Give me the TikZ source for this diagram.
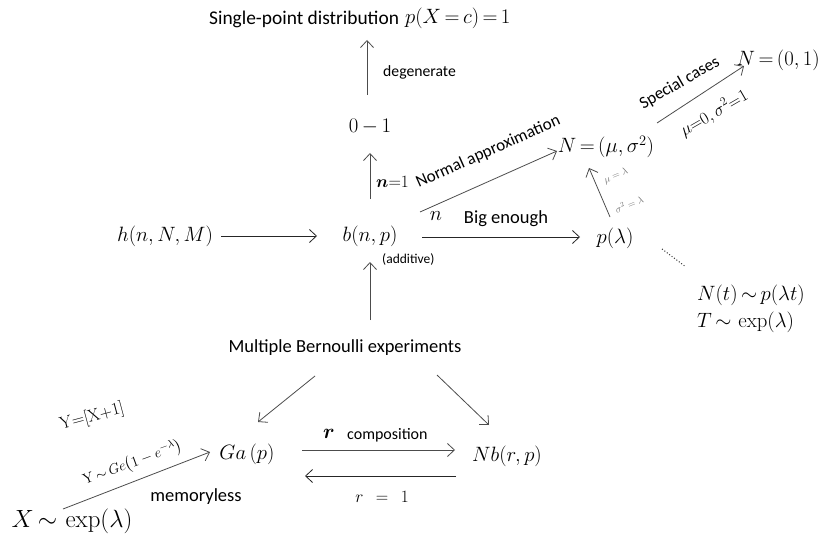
\documentclass[tikz,border=0pt]{standalone}
\usepackage{amsmath}
\usepackage[no-math]{fontspec}
\setmainfont{Carlito}
\usetikzlibrary{arrows.meta}
\tikzset{
  arr/.style={draw=black!70, line width=0.8pt, -{Straight Barb[length=7pt,width=13pt,line width=0.8pt]}},
  txt/.style={inner sep=0pt, font=\fontsize{18.5}{20}\selectfont},
  stxt/.style={inner sep=0pt, font=\fontsize{16}{18}\selectfont},
  mth/.style={inner sep=0pt, font=\fontsize{20}{22}\selectfont},
  smth/.style={inner sep=0pt, font=\fontsize{17}{19}\selectfont},
  gmth/.style={inner sep=0pt, text=black!55, font=\fontsize{10}{12}\selectfont},
}
\begin{document}
\begin{tikzpicture}[x=1pt,y=-1pt]
\useasboundingbox (0,0) rectangle (821,540);
% nodes
\node[inner sep=0pt, font=\fontsize{19.4}{22}\selectfont, anchor=west] (single) at (209,19) {Single-point distribution};
\node[mth, anchor=west] (pxc) at (405,18) {$p(X\,{=}\,c)\,{=}\,1$};
\node[stxt, font=\fontsize{15.7}{18}\selectfont, anchor=west] (degen) at (383,72) {degenerate};
\node[mth] (zo) at (370,127) {$0\,{-}\,1$};
\node[smth, anchor=west] (n1) at (376,182) {$\boldsymbol{n}{=}1$};
\node[mth] (h) at (165,236) {$h(n,N,M)$};
\node[mth, font=\fontsize{21}{23}\selectfont] (b) at (370,236) {$b(n,p)$};
\node[inner sep=0pt, font=\fontsize{13.5}{15}\selectfont, anchor=west] (add) at (382,259) {(additive)};
\node[txt] (mb) at (345,348) {Multiple Bernoulli experiments};
\node[mth] (nn) at (436,216) {$n$};
\node[txt] (big) at (506,219) {Big enough};
\node[mth, font=\fontsize{21}{23}\selectfont] (pl) at (615,238) {$p(\lambda)$};
\node[mth] (nms) at (606,147) {$N\,{=}\,(\mu,\sigma^{2})$};
\node[mth, anchor=east] (n01) at (820,60) {$N\,{=}\,(0,1)$};
\node[inner sep=0pt, font=\fontsize{17}{19}\selectfont, rotate=24, anchor=base] (normapp) at (490,156) {Normal approximation};
\node[inner sep=0pt, font=\fontsize{17}{19}\selectfont, rotate=30, anchor=base] (spec) at (682,87) {Special cases};
\node[smth, rotate=30] (mu01) at (714,113) {$\mu{=}0,\sigma^{2}{=}1$};
\node[gmth, rotate=22] (ml) at (616,176) {$\mu=\lambda$};
\node[gmth, rotate=22] (sl) at (629,204) {$\sigma^{2}=\lambda$};
\node[mth, anchor=west] (nt) at (697,295) {$N(t)\,{\sim}\,p(\lambda t)$};
\node[mth, anchor=west] (texp) at (697,322) {$T\,{\sim}\,\exp(\lambda)$};
\node[mth, font=\fontsize{21}{23}\selectfont] (ga) at (247,454) {$Ga\,(p)$};
\node[mth] (nb) at (507,456) {$Nb(r,p)$};
\node[mth] (rr) at (329,434) {$\boldsymbol{r}$};
\node[stxt, anchor=west] (comp) at (347,435) {composition};
\node[smth] (r1) at (382,497) {$r\;\,=\;\,1$};
\node[txt] (mem) at (196,497) {memoryless};
\node[inner sep=0pt, font=\fontsize{24}{26}\selectfont] (x) at (72,521) {$X\,{\sim}\,\exp(\lambda)$};
\node[inner sep=0pt, font=\fontsize{15}{17}\selectfont, rotate=20, anchor=base] (yge) at (134,467) {$\mathrm{Y}\,{\sim}\,Ge\big(1-e^{-\lambda}\big)$};
\node[inner sep=0pt, font=\fontsize{16}{18}\selectfont, rotate=15] (yx) at (92,417) {$\mathrm{Y{=}[X{+}1]}$};
% connector end points
\coordinate (c1s) at (367,95);  \coordinate (c1e) at (367,40);
\coordinate (c2s) at (370,199); \coordinate (c2e) at (370,153);
\coordinate (c3s) at (221,236); \coordinate (c3e) at (317,236);
\coordinate (c4s) at (370,320); \coordinate (c4e) at (370,262);
\coordinate (c5s) at (422,237); \coordinate (c5e) at (580,237);
\coordinate (c6s) at (420,212); \coordinate (c6e) at (557,151);
\coordinate (c7s) at (610,217); \coordinate (c7e) at (589,168);
\coordinate (c8s) at (657,123); \coordinate (c8e) at (744,66);
\coordinate (c9s) at (315,376); \coordinate (c9e) at (258,422);
\coordinate (c10s) at (437,375); \coordinate (c10e) at (489,425);
\coordinate (c11s) at (302,450); \coordinate (c11e) at (455,450);
\coordinate (c12s) at (456,476); \coordinate (c12e) at (305,476);
\coordinate (c13s) at (63,509); \coordinate (c13e) at (210,452);
\coordinate (d1) at (662,249); \coordinate (d2) at (686,267);
% connectors
\draw[arr] (c1s) -- (c1e);
\draw[arr] (c2s) -- (c2e);
\draw[arr, draw=black!85] (c3s) -- (c3e);
\draw[arr] (c4s) -- (c4e);
\draw[arr, draw=black!85] (c5s) -- (c5e);
\draw[arr] (c6s) -- (c6e);
\draw[arr] (c7s) -- (c7e);
\draw[arr] (c8s) -- (c8e);
\draw[arr] (c9s) -- (c9e);
\draw[arr] (c10s) -- (c10e);
\draw[arr] (c11s) -- (c11e);
\draw[arr, draw=black!85] (c12s) -- (c12e);
\draw[arr] (c13s) -- (c13e);
\draw[black!80, line width=1pt, dotted] (d1) -- (d2);
\end{tikzpicture}
\end{document}
